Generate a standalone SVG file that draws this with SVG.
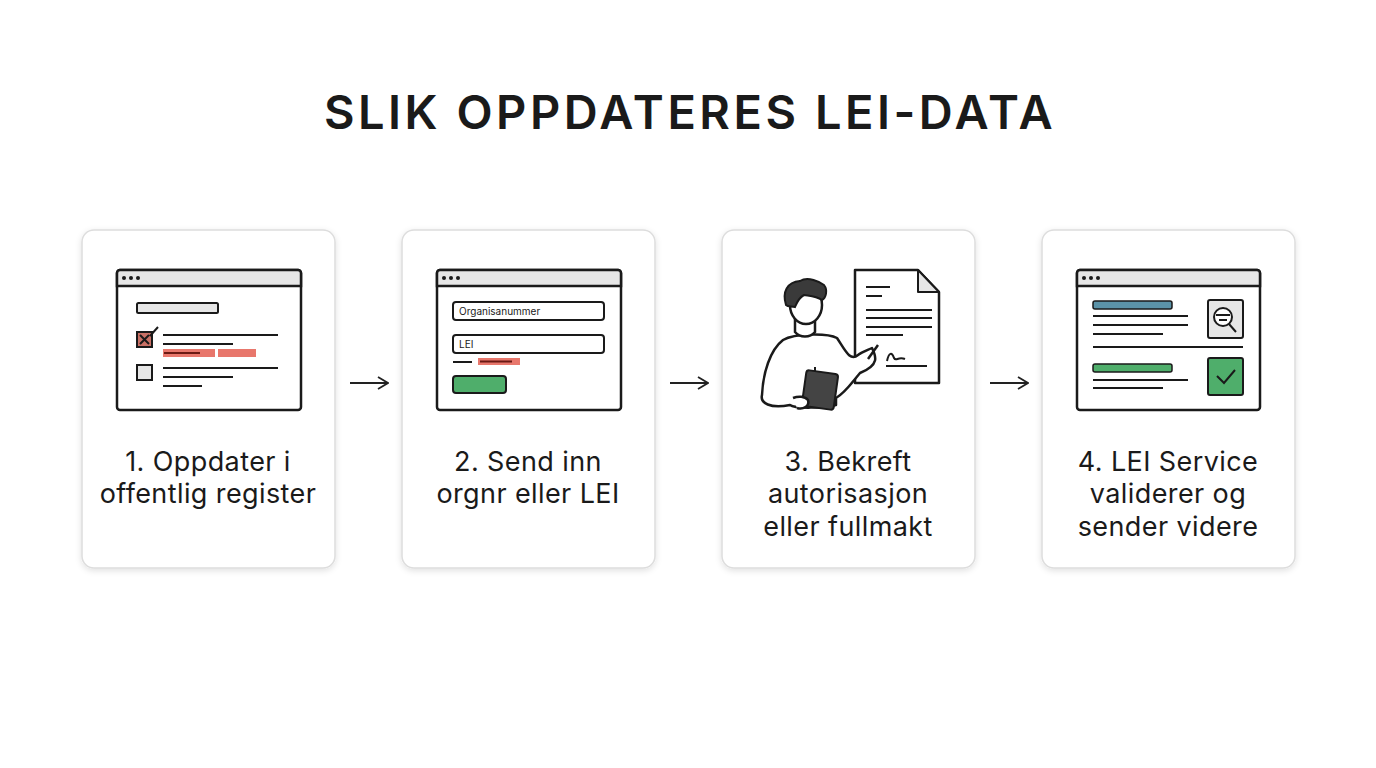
<svg xmlns="http://www.w3.org/2000/svg" width="1376" height="768" viewBox="0 0 1376 768">
<defs>
<filter id="sh" x="-10%" y="-10%" width="120%" height="120%"><feDropShadow dx="0" dy="2" stdDeviation="3" flood-color="#000" flood-opacity="0.12"/></filter>
<marker id="ar" markerWidth="12" markerHeight="14" refX="11" refY="7" orient="auto" markerUnits="userSpaceOnUse"><path d="M1,1 L11,7 L1,13" fill="none" stroke="#222" stroke-width="1.8"/></marker>
</defs>
<style>
.card{fill:#fff;stroke:#ddd;stroke-width:1.5}
.win{fill:#fff;stroke:#1a1a1a;stroke-width:2.5}
.bar{fill:#e6e6e6;stroke:#1a1a1a;stroke-width:2.5}
.ln{stroke:#1a1a1a;stroke-width:2;fill:none}
.lbl{font-family:"Inter","Liberation Sans",sans-serif;font-size:27px;letter-spacing:0.4px;fill:#1a1a1a;text-anchor:middle}
.sm{font-family:"Inter","Liberation Sans",sans-serif;font-size:10px;fill:#1a1a1a}
</style>
<rect width="1376" height="768" fill="#fff"/>
<text x="690" y="129" font-family="Inter,'Liberation Sans',sans-serif" font-size="47" font-weight="600" letter-spacing="3.5" fill="#1a1a1a" text-anchor="middle">SLIK OPPDATERES LEI-DATA</text>

<g id="step1">
<rect class="card" x="82" y="230" width="253" height="338" rx="12" filter="url(#sh)"/>
<rect class="win" x="117" y="270" width="184" height="140" rx="3"/>
<path class="bar" d="M120,270 H298 a3,3 0 0 1 3,3 V286 H117 V273 a3,3 0 0 1 3,-3z"/>
<circle cx="124" cy="278" r="2" fill="#1a1a1a"/><circle cx="131" cy="278" r="2" fill="#1a1a1a"/><circle cx="138" cy="278" r="2" fill="#1a1a1a"/>
<rect x="137" y="303" width="81" height="10" rx="1.5" fill="#e6e6e6" stroke="#1a1a1a" stroke-width="2"/>
<rect x="137" y="332" width="15" height="15" fill="#c97065" stroke="#1a1a1a" stroke-width="2"/>
<path class="ln" d="M140,335 L149,344 M149,335 L140,344 M150,336 L158,327"/>
<path class="ln" d="M163,335 H278 M163,344 H233"/>
<rect x="163" y="349" width="52" height="8" fill="#e8776c"/><rect x="218" y="349" width="38" height="8" fill="#e8776c"/>
<path d="M164,353 H200" stroke="#6b1a14" stroke-width="2"/>
<rect x="137" y="365" width="15" height="15" fill="#e6e6e6" stroke="#1a1a1a" stroke-width="2"/>
<path class="ln" d="M163,368 H278 M163,377 H233 M163,386 H202"/>
<text class="lbl" x="208" y="471">1. Oppdater i</text>
<text class="lbl" x="208" y="503">offentlig register</text>
</g>

<g id="step2">
<rect class="card" x="402" y="230" width="253" height="338" rx="12" filter="url(#sh)"/>
<rect class="win" x="437" y="270" width="184" height="140" rx="3"/>
<path class="bar" d="M440,270 H618 a3,3 0 0 1 3,3 V286 H437 V273 a3,3 0 0 1 3,-3z"/>
<circle cx="444" cy="278" r="2" fill="#1a1a1a"/><circle cx="451" cy="278" r="2" fill="#1a1a1a"/><circle cx="458" cy="278" r="2" fill="#1a1a1a"/>
<rect x="453" y="302" width="151" height="18" rx="3" fill="#fff" stroke="#1a1a1a" stroke-width="2"/>
<text class="sm" x="459" y="315">Organisanummer</text>
<rect x="453" y="335" width="151" height="18" rx="3" fill="#fff" stroke="#1a1a1a" stroke-width="2"/>
<text class="sm" x="459" y="348">LEI</text>
<path class="ln" d="M453,362 H472"/>
<rect x="478" y="358" width="42" height="7" fill="#e8776c"/>
<path d="M480,361.5 H512" stroke="#6b1a14" stroke-width="2"/>
<rect x="453" y="376" width="53" height="17" rx="3" fill="#4fae6b" stroke="#1a1a1a" stroke-width="2"/>
<text class="lbl" x="528" y="471">2. Send inn</text>
<text class="lbl" x="528" y="503">orgnr eller LEI</text>
</g>

<g id="step3">
<rect class="card" x="722" y="230" width="253" height="338" rx="12" filter="url(#sh)"/>
<path d="M855,270 H918 L939,292 V383 H855z" fill="#fff" stroke="#1a1a1a" stroke-width="2.5" stroke-linejoin="round"/>
<path d="M918,270 V292 H939z" fill="#e6e6e6" stroke="#1a1a1a" stroke-width="2" stroke-linejoin="round"/>
<path class="ln" d="M866,287 H890 M866,296 H882 M866,310 H932 M866,318 H932 M866,327 H932 M866,335 H903 M886,366 H927"/>
<path class="ln" d="M887,361 C889,352 892,352 894,358 C896,362 898,356 905,359"/>
<path d="M783,340 C795,333 828,333 837,338 C845,350 850,362 858,355 C862,352 868,350 872,348 C876,356 880,365 860,373 C850,385 845,393 836,398 L836,405 C825,408 795,409 790,405 C770,409 760,403 762,395 C763,373 770,350 783,340z" fill="#fff" stroke="#1a1a1a" stroke-width="2.5" stroke-linejoin="round"/>
<path d="M868,359 L878,345" stroke="#1a1a1a" stroke-width="2.5"/>
<path d="M795,318 V332 C800,338 810,338 815,332 V320" fill="#fff" stroke="#1a1a1a" stroke-width="2.5"/>
<ellipse cx="806" cy="305" rx="16" ry="19" fill="#fff" stroke="#1a1a1a" stroke-width="2.5"/>
<path d="M786,305 C782,292 787,282 800,281 C808,276 820,282 824,285 C828,290 826,298 822,300 C816,296 810,296 804,295 C800,297 797,302 795,307 C791,306 788,307 786,305z" fill="#3a3a3a" stroke="#1a1a1a" stroke-width="2"/>
<rect x="804" y="372" width="32" height="36" rx="3" fill="#444" stroke="#1a1a1a" stroke-width="2" transform="rotate(8 820 390)"/>
<path d="M815,367 V372" stroke="#1a1a1a" stroke-width="2"/>
<path d="M793,398 C798,396 805,396 808,400 C810,406 803,410 797,408" fill="#fff" stroke="#1a1a1a" stroke-width="2.5"/>
<text class="lbl" x="848" y="471">3. Bekreft</text>
<text class="lbl" x="848" y="503">autorisasjon</text>
<text class="lbl" x="848" y="536">eller fullmakt</text>
</g>

<g id="step4">
<rect class="card" x="1042" y="230" width="253" height="338" rx="12" filter="url(#sh)"/>
<rect class="win" x="1077" y="270" width="183" height="140" rx="3"/>
<path class="bar" d="M1080,270 H1257 a3,3 0 0 1 3,3 V286 H1077 V273 a3,3 0 0 1 3,-3z"/>
<circle cx="1084" cy="278" r="2" fill="#1a1a1a"/><circle cx="1091" cy="278" r="2" fill="#1a1a1a"/><circle cx="1098" cy="278" r="2" fill="#1a1a1a"/>
<rect x="1093" y="301" width="79" height="8" rx="2" fill="#5b93a8" stroke="#1a1a1a" stroke-width="1.5"/>
<path class="ln" d="M1093,316 H1188 M1093,325 H1188 M1093,334 H1163 M1093,347 H1243 M1093,380 H1188 M1093,388 H1163"/>
<rect x="1208" y="300" width="35" height="38" rx="2" fill="#e6e6e6" stroke="#1a1a1a" stroke-width="2"/>
<circle cx="1223" cy="317" r="9" fill="#fff" stroke="#1a1a1a" stroke-width="2"/>
<path class="ln" d="M1216,315 H1230 M1219,320 H1227 M1229,324 L1236,332"/>
<rect x="1093" y="364" width="79" height="8" rx="2" fill="#4fae6b" stroke="#1a1a1a" stroke-width="1.5"/>
<rect x="1208" y="358" width="35" height="37" rx="2" fill="#4fae6b" stroke="#1a1a1a" stroke-width="2"/>
<path class="ln" d="M1217,376 L1224,383 L1235,370"/>
<text class="lbl" x="1168" y="471">4. LEI Service</text>
<text class="lbl" x="1168" y="503">validerer og</text>
<text class="lbl" x="1168" y="536">sender videre</text>
</g>

<g id="connectors" stroke="#222" stroke-width="1.8" fill="none">
<path d="M350,383 H388" marker-end="url(#ar)"/>
<path d="M670,383 H708" marker-end="url(#ar)"/>
<path d="M990,383 H1028" marker-end="url(#ar)"/>
</g>
</svg>
